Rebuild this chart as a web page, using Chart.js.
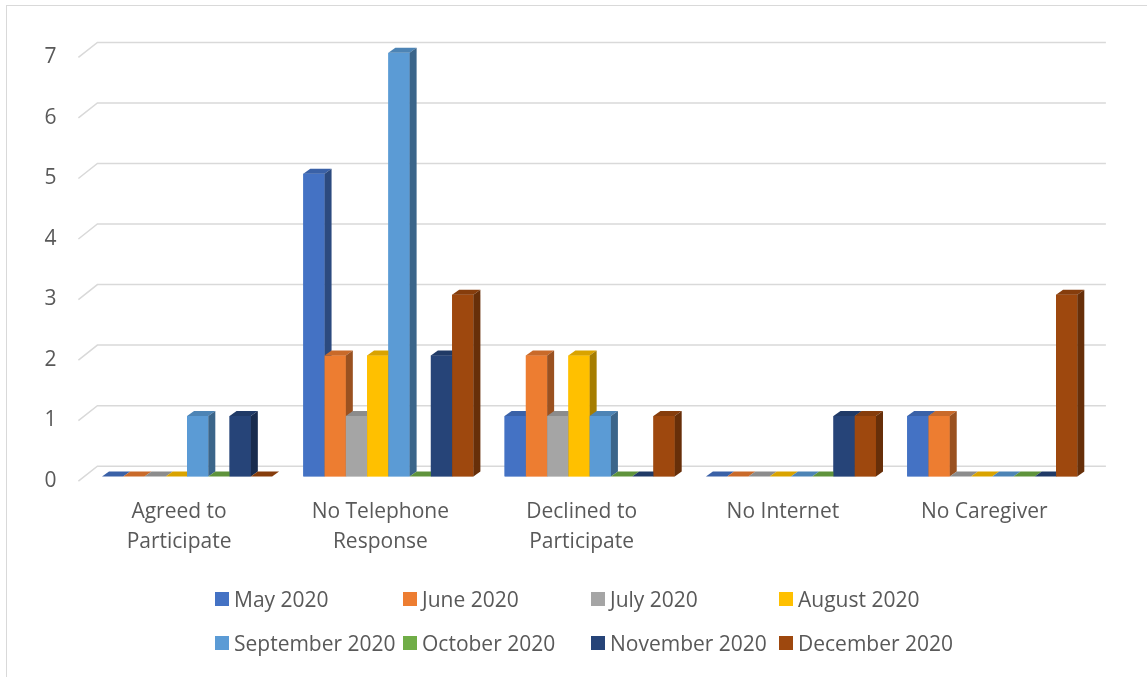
<!DOCTYPE html>
<html>
<head>
<meta charset="utf-8">
<script src="https://cdn.jsdelivr.net/npm/chart.js@4"></script>
<style>
  html, body { margin: 0; padding: 0; background: #fff; overflow: hidden; }
  #wrap { position: relative; width: 1147px; height: 677px; }
  #frame { position: absolute; left: 6px; top: 5px; width: 1160px; height: 690px; border: 1.5px solid #d9d9d9; }
  #chart { position: absolute; left: 0; top: 0; }
  #legend {
    position: absolute; left: 215px; top: 577px;
    display: grid; grid-template-columns: repeat(4, 188px);
    font: 21px 'Open Sans', sans-serif; color: #595959;
  }
  .item { display: flex; align-items: center; height: 44px; white-space: nowrap; }
  .box { width: 14px; height: 14px; margin-right: 5px; flex: none; }
</style>
</head>
<body>
<div id="wrap">
  <div id="frame"></div>
  <canvas id="chart" width="1147" height="677"></canvas>
  <div id="legend"></div>
</div>
<script>
const categories = [['Agreed to', 'Participate'], ['No Telephone', 'Response'], ['Declined to', 'Participate'], 'No Internet', 'No Caregiver'];
const months = ['May 2020', 'June 2020', 'July 2020', 'August 2020', 'September 2020', 'October 2020', 'November 2020', 'December 2020'];
const colors = ['#4472C4', '#ED7D31', '#A5A5A5', '#FFC000', '#5B9BD5', '#70AD47', '#264478', '#9E480E'];

const may2020 = [0, 5, 1, 0, 1];
const june2020 = [0, 2, 2, 0, 1];
const july2020 = [0, 1, 1, 0, 0];
const august2020 = [0, 2, 2, 0, 0];
const september2020 = [1, 7, 1, 0, 0];
const october2020 = [0, 0, 0, 0, 0];
const november2020 = [1, 2, 0, 1, 0];
const december2020 = [0, 3, 1, 1, 3];
const series = [may2020, june2020, july2020, august2020, september2020, october2020, november2020, december2020];

const yTicks = [0, 1, 2, 3, 4, 5, 6, 7];

// 3d look: depth of a bar, and offsets of the back wall
const dx = 7, dy = 5;

function shade(hex, f) {
  const n = parseInt(hex.slice(1), 16);
  const r = Math.round(((n >> 16) & 255) * f);
  const g = Math.round(((n >> 8) & 255) * f);
  const b = Math.round((n & 255) * f);
  return `rgb(${r},${g},${b})`;
}

const bars3d = {
  id: 'bars3d',
  beforeDatasetsDraw(chart) {
    const ctx = chart.ctx;
    const y = chart.scales.y;
    const area = chart.chartArea;
    ctx.save();
    ctx.strokeStyle = '#d9d9d9';
    ctx.lineWidth = 1.5;
    yTicks.forEach(v => {
      const py = y.getPixelForValue(v);
      ctx.beginPath();
      ctx.moveTo(area.left - 8, py + 4.7);
      ctx.lineTo(area.left + 11, py - 10.3);
      ctx.lineTo(area.right + 13, py - 10.3);
      ctx.stroke();
    });
    ctx.restore();
  },
  afterDatasetsDraw(chart) {
    const ctx = chart.ctx;
    const metas = chart.getSortedVisibleDatasetMetas().slice().sort((a, b) => a.index - b.index);
    ctx.save();
    for (let i = 0; i < categories.length; i++) {
      metas.forEach(meta => {
        const bar = meta.data[i];
        const { x, y, base, width } = bar.getProps(['x', 'y', 'base', 'width'], true);
        const l = x - width / 2, r = x + width / 2;
        const c = colors[meta.index];
        bar.draw(ctx);
        ctx.fillStyle = shade(c, 0.85);
        ctx.beginPath();
        ctx.moveTo(l, y);
        ctx.lineTo(l + dx, y - dy);
        ctx.lineTo(r + dx, y - dy);
        ctx.lineTo(r, y);
        ctx.closePath();
        ctx.fill();
        if (base - y > 0.5) {
          ctx.fillStyle = shade(c, 0.65);
          ctx.beginPath();
          ctx.moveTo(r, y);
          ctx.lineTo(r + dx, y - dy);
          ctx.lineTo(r + dx, base - dy);
          ctx.lineTo(r, base);
          ctx.closePath();
          ctx.fill();
        }
      });
    }
    ctx.restore();
  }
};

Chart.defaults.font.family = "'Open Sans', sans-serif";
Chart.defaults.font.size = 21;
Chart.defaults.color = '#595959';

new Chart(document.getElementById('chart'), {
  type: 'bar',
  data: {
    labels: categories,
    datasets: months.map((m, i) => ({
      label: m,
      data: series[i],
      backgroundColor: colors[i],
      borderWidth: 0,
      categoryPercentage: 0.845,
      barPercentage: 1
    }))
  },
  options: {
    responsive: false,
    animation: false,
    layout: { padding: { top: 52.7, left: 0, right: 54.1, bottom: 0 } },
    plugins: { legend: { display: false }, tooltip: { enabled: false } },
    scales: {
      x: {
        grid: { display: false, drawTicks: false },
        border: { display: false },
        ticks: { padding: 21, labelOffset: -8, maxRotation: 0, autoSkip: false, font: { size: 21, lineHeight: 1.4 } },
        afterFit: s => { s.height = 200.5; }
      },
      y: {
        min: 0, max: 7,
        grid: { display: false, drawTicks: false },
        border: { display: false },
        ticks: { stepSize: 1, padding: 30, labelOffset: 4.5 },
        afterFit: s => { s.width = 86.4; }
      }
    }
  },
  plugins: [bars3d]
});

const legend = document.getElementById('legend');
months.forEach((m, i) => {
  const item = document.createElement('div');
  item.className = 'item';
  item.innerHTML = `<span class="box" style="background:${colors[i]}"></span><span>${m}</span>`;
  legend.appendChild(item);
});
</script>
</body>
</html>
